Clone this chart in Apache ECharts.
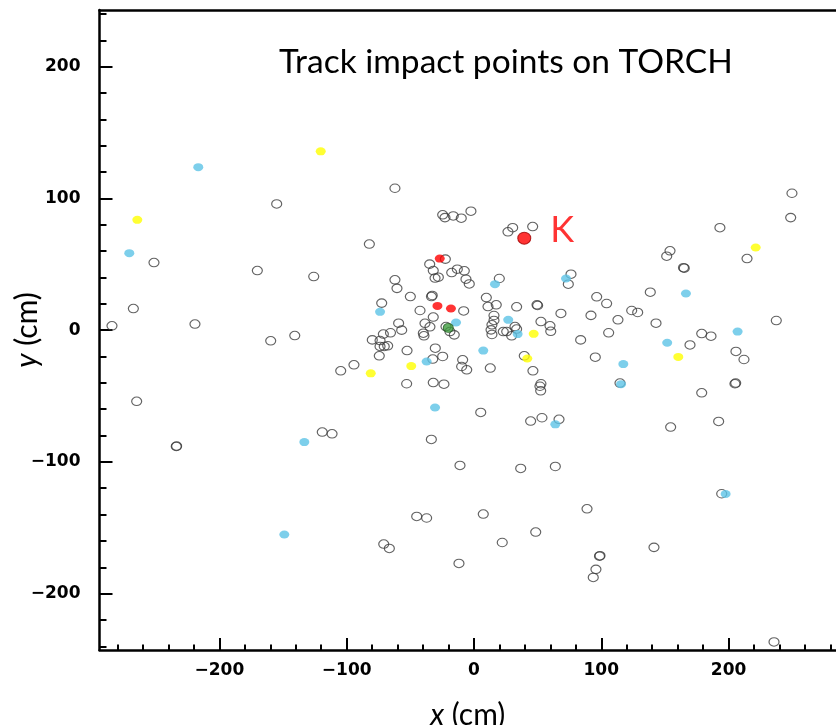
<!DOCTYPE html>
<html><head><meta charset="utf-8">
<script src="https://cdn.jsdelivr.net/npm/echarts@6/dist/echarts.min.js"></script>
<style>html,body{margin:0;padding:0;background:#fff}#c{width:836px;height:725px}</style>
</head><body><div id="c"></div>
<script>
// Tick values
const xMajorTicks = [-200, -100, 0, 100, 200];
const xMinorTicks = [-280,-260,-240,-220,-180,-160,-140,-120,-80,-60,-40,-20,20,40,60,80,120,140,160,180,220,240,260,280];
const yMajorTicks = [-200, -100, 0, 100, 200];
const yMinorTicks = [-240,-220,-180,-160,-140,-120,-80,-60,-40,-20,20,40,60,80,120,140,160,180,220,240];

// Track impact points (x cm, y cm)
const openPoints = [
 [-155.0,95.8],[-62.1,107.7],[-251.4,51.3],[-170.2,45.2],[-82.2,65.3],[-125.9,40.7],[-62.1,38.2],[-60.5,31.7],
 [-267.6,16.4],[-72.5,20.5],[-284.4,3.3],[-219.2,4.6],[-59.2,5.3],[-56.8,0.0],[-159.7,-8.1],[-140.8,-4.1],
 [-71.2,-3.0],[-65.6,-2.0],[-79.9,-7.4],[-73.8,-7.9],[-73.8,-12.4],[-70.5,-12.4],[-67.8,-11.9],[-74.4,-19.5],
 [-94.3,-26.3],[-104.7,-30.9],[-265.0,-54.0],[-233.9,-88.3],[-233.6,-88.0],[-119.2,-77.4],[-111.5,-78.7],[-70.9,-162.4],[-66.5,-165.7],
 [-24.6,87.5],[-22.8,85.4],[-16.3,86.7],[-10.0,85.0],[-2.4,90.3],[26.7,74.6],[30.4,77.8],[46.1,78.6],
 [-22.5,53.9],[-34.8,50.1],[-32.0,45.2],[-30.6,39.5],[-28.0,40.2],[-17.5,43.7],[-13.1,46.3],[-7.6,45.0],
 [-6.3,38.7],[-3.7,35.1],[19.9,39.2],[76.2,42.5],[74.1,34.9],[-50.0,25.5],[-32.8,26.3],[-33.4,25.5],
 [-42.4,14.9],[-32.0,9.9],[-8.1,14.6],[9.7,24.7],[11.0,17.9],[17.5,19.2],[33.5,17.7],[50.0,18.7],[49.5,19.2],
 [68.3,12.7],[91.9,11.2],[96.4,25.3],[104.2,20.2],[113.1,7.8],[15.7,11.1],[15.7,7.4],[14.1,4.0],
 [-38.5,5.2],[-34.6,2.5],[52.6,6.5],[59.7,3.3],[-39.8,-2.3],[-39.3,-4.3],[-22.0,2.7],[-18.9,-1.1],
 [-15.5,-3.6],[-30.4,-13.7],[-52.6,-15.5],[-32.4,-22.0],[-24.6,-20.0],[-8.9,-22.5],[-9.7,-27.6],[-5.7,-30.1],
 [12.8,-28.8],[13.4,0.2],[14.1,-3.3],[23.0,-1.1],[25.7,-1.1],[29.6,-4.3],[32.2,2.7],[33.5,0.8],
 [60.3,-0.9],[83.8,-7.4],[95.3,-20.5],[39.5,-19.5],[46.3,-30.9],[52.6,-40.7],[51.8,-42.6],[52.4,-46.1],
 [-52.9,-40.7],[-32.0,-39.8],[-23.6,-41.0],[5.3,-62.5],[44.5,-69.0],[53.4,-66.5],[66.8,-67.7],[-33.5,-83.0],
 [-11.0,-102.7],[36.7,-105.0],[63.9,-103.5],[249.8,103.9],[248.8,85.4],[193.2,77.8],[214.5,54.3],[154.0,60.2],
 [151.4,56.1],[165.2,47.0],[164.6,47.4],[138.5,28.8],[123.9,14.9],[128.6,13.4],[143.0,5.3],[237.5,7.3],
 [105.8,-2.0],[178.9,-2.6],[186.2,-4.6],[169.7,-11.2],[205.8,-16.2],[212.1,-22.3],[114.7,-40.2],[178.9,-47.6],
 [205.6,-40.2],[205.0,-40.7],[154.5,-73.6],[192.2,-69.3],[194.6,-124.2],[88.8,-135.6],[141.4,-164.9],[99.0,-171.2],
 [98.6,-171.6],[95.8,-181.6],[93.7,-187.7],[235.7,-236.7],[-45.0,-141.4],[-37.2,-142.6],[7.3,-139.6],[48.5,-153.3],
 [22.2,-161.2],[-11.8,-177.1]
];
const cyanPoints = [
 [-216.6,123.7],[-270.8,58.4],[-73.8,13.9],[-133.3,-85.0],[-149.0,-155.1],[16.5,34.9],[72.3,39.2],[26.9,7.8],
 [-14.1,5.8],[7.3,-15.5],[-37.2,-23.8],[34.3,-3.0],[-30.6,-58.7],[63.9,-71.5],[166.5,27.8],[151.8,-9.6],
 [207.1,-1.1],[117.3,-25.8],[115.5,-41.0],[197.7,-124.4]
];
const yellowPoints = [
 [-264.5,83.7],[-120.4,135.7],[221.3,62.7],[-81.1,-32.8],[-49.3,-27.3],[46.9,-2.8],[41.9,-21.5],[160.5,-20.3]
];
const redPoints = [[-26.9,54.3],[-28.7,18.4],[-18.1,16.4]];
const greenPoints = [[-20.2,1.7]];
const kaonPoints = [[39.5,69.8]];

const X_MIN = -294.2, X_MAX = 284.4, Y_MIN = -242.8, Y_MAX = 243;
const fmt = v => v < 0 ? '\u2212' + Math.abs(v) : String(v);
const tickFont = {fontFamily:'DejaVu Sans', fontWeight:'bold', fontSize:17, color:'#000'};
const axisLine = {show:true, onZero:false, lineStyle:{color:'#000', width:2.5}};
const noLine = {show:false, onZero:false};

const chart = echarts.init(document.getElementById('c'), null, {renderer:'canvas'});
chart.setOption({
  animation:false,
  backgroundColor:'#fff',
  title:{text:'Track impact points on TORCH', left:279, top:45, padding:0,
    textStyle:{fontFamily:'Lato', fontSize:33.5, fontWeight:'normal', color:'#000'}},
  grid:{left:99.5, right:0, top:10, bottom:75, containLabel:false, outerBoundsMode:'none'},
  xAxis:[
    {type:'value', min:X_MIN, max:X_MAX, position:'bottom', axisLine:axisLine,
     axisTick:{show:true, inside:true, length:12, customValues:xMajorTicks, lineStyle:{color:'#000', width:2}},
     axisLabel:Object.assign({show:true, margin:12, customValues:xMajorTicks, formatter:fmt}, tickFont),
     splitLine:{show:false},
     name:'{i|x} (cm)', nameLocation:'middle', nameGap:50,
     nameTextStyle:{fontFamily:'Lato', fontSize:30, color:'#000', rich:{i:{fontFamily:'Lato', fontStyle:'italic', fontSize:30, color:'#000'}}}},
    {type:'value', min:X_MIN, max:X_MAX, position:'bottom', axisLine:noLine,
     axisTick:{show:true, inside:true, length:5.5, customValues:xMinorTicks, lineStyle:{color:'#000', width:2}},
     axisLabel:{show:false}, splitLine:{show:false}},
    {type:'value', min:X_MIN, max:X_MAX, position:'top', axisLine:axisLine,
     axisTick:{show:false}, axisLabel:{show:false}, splitLine:{show:false}}
  ],
  yAxis:[
    {type:'value', min:Y_MIN, max:Y_MAX, position:'left', axisLine:axisLine,
     axisTick:{show:true, inside:true, length:13, customValues:yMajorTicks, lineStyle:{color:'#000', width:2}},
     axisLabel:Object.assign({show:true, margin:19, customValues:yMajorTicks, formatter:fmt}, tickFont),
     splitLine:{show:false},
     name:'{i|y} (cm)', nameLocation:'middle', nameGap:57, nameRotate:90, nameMoveOverlap:false,
     nameTextStyle:{fontFamily:'Lato', fontSize:30, color:'#000', rich:{i:{fontFamily:'Lato', fontStyle:'italic', fontSize:30, color:'#000'}}}},
    {type:'value', min:Y_MIN, max:Y_MAX, position:'left', axisLine:noLine,
     axisTick:{show:true, inside:true, length:7, customValues:yMinorTicks, lineStyle:{color:'#000', width:2}},
     axisLabel:{show:false}, splitLine:{show:false}}
  ],
  series:[
    {type:'scatter', xAxisIndex:0, yAxisIndex:0, data:openPoints, symbol:'circle', symbolSize:[10,8.5], silent:true, z:2,
     itemStyle:{color:'rgba(0,0,0,0)', borderColor:'#3c3c3c', borderWidth:1.1}},
    {type:'scatter', data:cyanPoints, symbol:'circle', symbolSize:[10,8], silent:true, z:3,
     itemStyle:{color:'#5cc3e6'}},
    {type:'scatter', data:yellowPoints, symbol:'circle', symbolSize:[10,8], silent:true, z:3,
     itemStyle:{color:'#ffff00'}},
    {type:'scatter', data:redPoints, symbol:'circle', symbolSize:[10,8], silent:true, z:3,
     itemStyle:{color:'#ff0000'}},
    {type:'scatter', data:greenPoints, symbol:'circle', symbolSize:[10,9], silent:true, z:4,
     itemStyle:{color:'#3d9b3d', borderColor:'#1e5a1e', borderWidth:1}},
    {type:'scatter', data:kaonPoints, symbol:'circle', symbolSize:[13,12], silent:true, z:4,
     itemStyle:{color:'#ff0000', borderColor:'#a00000', borderWidth:1},
     label:{show:true, formatter:'K', position:'right', distance:19, offset:[0,-8],
       fontFamily:'Lato', fontSize:36, color:'#ff0000'}}
  ]
});
</script></body></html>
